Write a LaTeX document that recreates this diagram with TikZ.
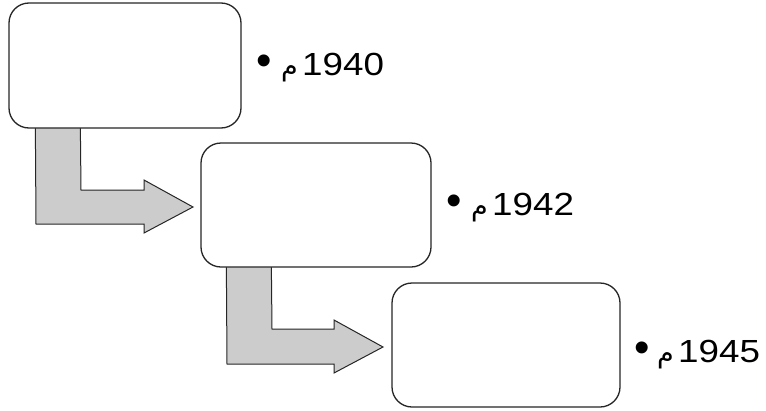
\documentclass[tikz,border=0pt]{standalone}
\usepackage{fontspec}
\setmainfont{Liberation Sans}
\newfontfamily\arabicfont[Script=Arabic]{DejaVu Sans}
\newfontfamily\digitfont[FakeStretch=1.15]{Liberation Sans}
\TeXXeTstate=1
\usetikzlibrary{backgrounds,calc}
\tikzset{
  box/.style={draw=black!85, line width=1.3pt, rounded corners=20pt, fill=white,
    inner sep=0pt, minimum width=#1},
  box/.default=230pt,
  bentarrow/.style={draw=black!85, line width=1pt, fill=gray!40, line join=miter},
  yearlab/.style={font=\digitfont\fontsize{32}{36}\selectfont, inner sep=0pt, anchor=west},
  meemlab/.style={font=\arabicfont\fontsize{27}{30}\selectfont, inner sep=0pt, anchor=base east},
  bulletlab/.style={font=\fontsize{44}{48}\selectfont, inner sep=0pt, anchor=center}
}
\begin{document}
\begin{tikzpicture}[x=1pt,y=-1pt]
\useasboundingbox (0,0) rectangle (766,410);
% boxes
\node[box=232pt, minimum height=125pt] (b1) at (125,65.5) {};
\node[box=230pt, minimum height=124pt] (b2) at (316,205) {};
\node[box=228pt, minimum height=124pt] (b3) at (506,345) {};
% bent arrows (behind the boxes)
\begin{pgfonlayer}{background}
\draw[bentarrow] ($(b1.south west)+(27,-2)$) -- (36,224) -- (144,224) -- (144,233)
  -- (193,207) -- (144,180) -- (144,190) -- (81,190) -- ($(b1.south west)+(72,-2)$) -- cycle;
\draw[bentarrow] ($(b2.south west)+(26,-2)$) -- (227,364) -- (334,364) -- (334,373)
  -- (383,347) -- (334,320) -- (334,329) -- (272,329) -- ($(b2.south west)+(71,-2)$) -- cycle;
\end{pgfonlayer}
% labels
\node[bulletlab] (d1) at (264,65) {•};
\node[yearlab] (y1) at (302,64) {1940};
\node[meemlab] (m1) at ($(y1.south west)+(-4,0)$) {\beginR م\endR};
\node[bulletlab] (d2) at (454,205) {•};
\node[yearlab] (y2) at (492,204) {1942};
\node[meemlab] (m2) at ($(y2.south west)+(-4,0)$) {\beginR م\endR};
\node[bulletlab] (d3) at (642,352) {•};
\node[yearlab] (y3) at (678,351) {1945};
\node[meemlab] (m3) at ($(y3.south west)+(-4,0)$) {\beginR م\endR};
\end{tikzpicture}
\end{document}
